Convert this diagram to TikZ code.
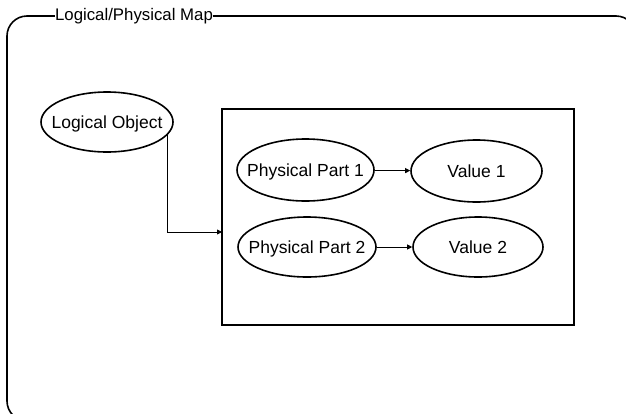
\documentclass[tikz,border=0pt]{standalone}
\usepackage{fontspec}
\setmainfont{Liberation Sans}
\usetikzlibrary{shapes.geometric,arrows.meta}

\tikzset{
  oval/.style={draw, ellipse, line width=1.6pt, inner sep=0pt, text depth=0pt,
    font=\fontsize{17.5}{20}\selectfont},
  holder/.style={draw, line width=1.6pt},
  frame/.style={draw, line width=1.6pt, rounded corners=20pt},
  link/.style={line width=0.8pt, -{Triangle[length=5pt,width=5pt]}},
  caption/.style={fill=white, inner xsep=0.5pt, inner ysep=2pt,
    font=\fontsize{16.8}{20}\selectfont}
}

\begin{document}
\begin{tikzpicture}[x=1pt, y=-1pt]
  \clip (0,0) rectangle (626,413);

  % outer group frame, running past the page edge on the right and bottom
  \draw[frame] (7,16) rectangle (636,421);
  \node[caption] (title) at (134,16) {Logical/Physical Map};

  % logical object (zero-width text box so the oval keeps its set size)
  \node[oval, minimum width=132pt, minimum height=60pt] (lo) at (107,122) {\makebox[0pt]{Logical Object}};

  % container of physical parts
  \node[holder, minimum width=352pt, minimum height=216pt, inner sep=0pt] (box) at (398,217) {};

  \node[oval, minimum width=137pt, minimum height=62pt] (pp1) at (305.5,170) {\makebox[0pt]{Physical Part 1}};
  \node[oval, minimum width=131pt, minimum height=62pt] (v1) at (476.5,171) {\makebox[0pt]{Value 1}};
  \node[oval, minimum width=138pt, minimum height=60pt] (pp2) at (307,247) {\makebox[0pt]{Physical Part 2}};
  \node[oval, minimum width=130pt, minimum height=60pt] (v2) at (478,247) {\makebox[0pt]{Value 2}};

  \coordinate (entry) at (222,232);

  \draw[link] (lo.-12) |- (entry);
  \draw[link] (pp1) -- (v1);
  \draw[link] (pp2) -- (v2);
\end{tikzpicture}
\end{document}
